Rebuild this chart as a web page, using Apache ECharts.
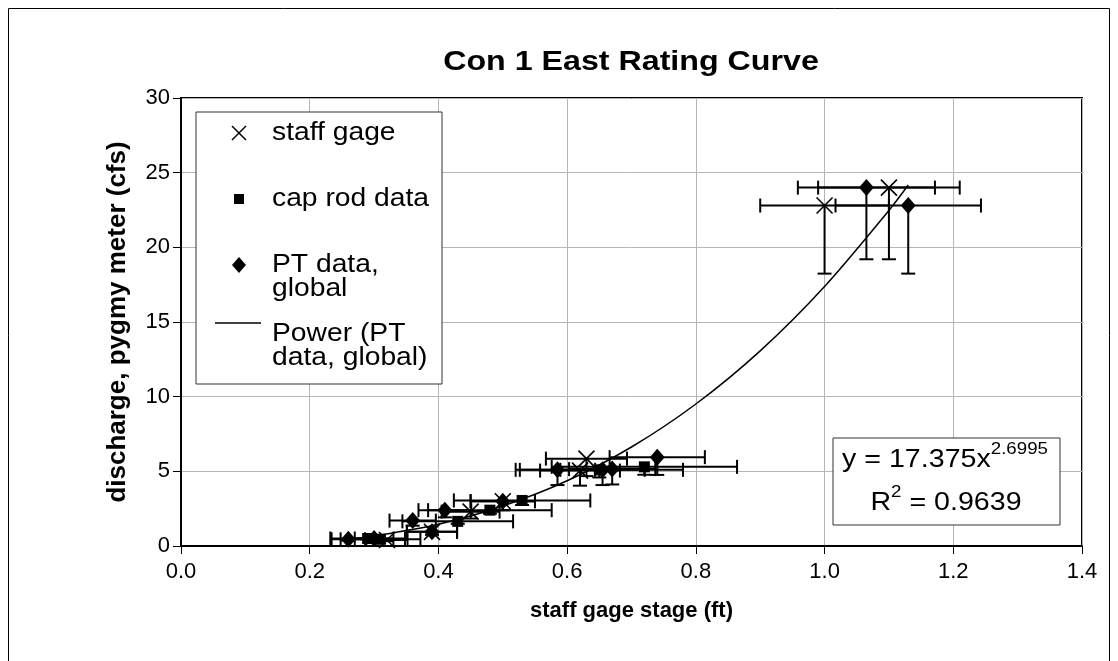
<!DOCTYPE html>
<html>
<head>
<meta charset="utf-8">
<script src="https://cdn.jsdelivr.net/npm/echarts@6/dist/echarts.min.js"></script>
<style>
    html, body {margin: 0; background: #fff;}
    #chart {width: 1118px; height: 661px;}
</style>
</head>
<body>
<div id="chart"></div>
<script>
// staff gage readings (X markers)
const staffX = [0.32, 0.39, 0.45, 0.50, 0.62, 0.63, 1.00, 1.10];
const staffY = [0.40, 0.95, 2.30, 3.00, 5.05, 5.85, 22.8, 24.0];

// cap rod data (squares)
const capX = [0.29, 0.31, 0.43, 0.48, 0.53, 0.65, 0.72];
const capY = [0.50, 0.45, 1.65, 2.40, 3.05, 5.10, 5.30];

// PT data, global (diamonds)
const ptX = [0.26, 0.30, 0.36, 0.39, 0.41, 0.50, 0.585, 0.655, 0.67, 0.74, 1.065, 1.13];
const ptY = [0.45, 0.50, 1.70, 0.95, 2.40, 3.00, 5.10, 5.10, 5.15, 5.95, 24.0, 22.8];

// power trendline
const curveX = [0.26, 0.30, 0.40, 0.50, 0.60, 0.70, 0.80, 0.90, 1.00, 1.10, 1.13];
const curveY = [0.46, 0.67, 1.46, 2.68, 4.37, 6.63, 9.51, 13.07, 17.38, 22.47, 24.17];

// error bar sizes (fraction of value)
const staffErr = {x: 0.1, yDown: 0.2};
const capErr = {x: 0.2, yDown: 0.1};
const ptErr = {x: 0.1, yDown: 0.2};

const fitText = {a: '17.375', b: '2.6995', r2: '0.9639'};
const xTicks = {min: 0, max: 1.4, step: 0.2};
const yTicks = {min: 0, max: 30, step: 5};

const FONT = 'Liberation Sans, Arial, sans-serif';
const X_ICON = 'path://M0,0L10,10M10,0L0,10';
const STRETCH = 1.13; // text in the picture is a bit wide

function pairs(xs, ys) {
    return xs.map((x, i) => [x, ys[i]]);
}

function errRows(xs, ys, err) {
    return xs.map((x, i) => [x, ys[i], x * (1 - err.x), x * (1 + err.x), ys[i] * (1 - err.yDown)]);
}

function renderErr(params, api) {
    const pt = api.coord([api.value(0), api.value(1)]);
    const lo = api.coord([api.value(2), api.value(1)]);
    const hi = api.coord([api.value(3), api.value(1)]);
    const dn = api.coord([api.value(0), api.value(4)]);
    const c = 7;
    const style = {stroke: '#000', lineWidth: 2};
    const seg = (x1, y1, x2, y2) => ({type: 'line', shape: {x1, y1, x2, y2}, style});
    return {
        type: 'group',
        children: [
            seg(lo[0], lo[1], hi[0], hi[1]),
            seg(lo[0], lo[1] - c, lo[0], lo[1] + c),
            seg(hi[0], hi[1] - c, hi[0], hi[1] + c),
            seg(pt[0], pt[1], dn[0], dn[1]),
            seg(dn[0] - c, dn[1], dn[0] + c, dn[1]),
        ],
    };
}

function errSeries(name, rows) {
    return {
        type: 'custom',
        name: name + ' err',
        renderItem: renderErr,
        encode: {x: [0, 2, 3], y: [1, 4]},
        data: rows,
        z: 2,
        silent: true,
    };
}

function wideText(x, y, style, z) {
    return {
        type: 'text', x, y, scaleX: STRETCH, z: z || 11,
        style: Object.assign({x: 0, y: 0, fill: '#000'}, style),
    };
}

const chart = echarts.init(document.getElementById('chart'));

const legendItems = [
    {y: 133, lines: ['staff gage'], icon: 'x'},
    {y: 199, lines: ['cap rod data'], icon: 'square'},
    {y: 265, lines: ['PT data,', 'global'], icon: 'diamond'},
    {y: 334, lines: ['Power (PT', 'data, global)'], icon: 'line'},
];

function legendIcons(item) {
    const cx = 239, cy = item.y;
    const ln = (x1, y1, x2, y2) => ({type: 'line', z: 11, shape: {x1, y1, x2, y2}, style: {stroke: '#000', lineWidth: 1.5}});
    if (item.icon === 'x') {
        return [ln(cx - 7, cy - 7, cx + 7, cy + 7), ln(cx + 7, cy - 7, cx - 7, cy + 7)];
    }
    if (item.icon === 'square') {
        return [{type: 'rect', z: 11, shape: {x: cx - 5, y: cy - 5, width: 10, height: 10}, style: {fill: '#000'}}];
    }
    if (item.icon === 'diamond') {
        return [{type: 'polygon', z: 11, shape: {points: [[cx, cy - 8], [cx + 7, cy], [cx, cy + 8], [cx - 7, cy]]}, style: {fill: '#000'}}];
    }
    return [ln(215, cy - 11, 261, cy - 11)];
}

const legendGraphics = [
    {type: 'rect', z: 10, shape: {x: 196, y: 112, width: 246, height: 272}, style: {fill: '#fff', stroke: '#333', lineWidth: 1}},
];
legendItems.forEach((item) => {
    legendGraphics.push(...legendIcons(item));
    item.lines.forEach((t, k) => {
        legendGraphics.push(wideText(272, item.y + k * 24, {text: t, font: '25px ' + FONT, verticalAlign: 'middle'}));
    });
});

const superRich = {
    b: {fontFamily: FONT, fontSize: 26, color: '#000', lineHeight: 32, verticalAlign: 'bottom'},
    s: {fontFamily: FONT, fontSize: 17, color: '#000', lineHeight: 32, verticalAlign: 'top'},
};

chart.setOption({
    animation: false,
    backgroundColor: '#fff',
    grid: {
        left: 181,
        right: 36,
        top: 98,
        bottom: 115,
        show: true,
        borderColor: '#000',
        borderWidth: 2,
        containLabel: false,
    },
    xAxis: {
        type: 'value',
        min: xTicks.min,
        max: xTicks.max,
        interval: xTicks.step,
        name: 'staff gage stage (ft)',
        nameLocation: 'middle',
        nameGap: 54,
        nameTextStyle: {fontFamily: FONT, fontSize: 22, fontWeight: 'bold', color: '#000'},
        axisLine: {lineStyle: {color: '#000', width: 2}},
        axisTick: {show: true, length: 8, lineStyle: {color: '#000'}},
        axisLabel: {fontFamily: FONT, fontSize: 22, color: '#000', margin: 15, formatter: (v) => v.toFixed(1)},
        splitLine: {show: true, lineStyle: {color: '#b5b5b5', width: 1}},
    },
    yAxis: {
        type: 'value',
        min: yTicks.min,
        max: yTicks.max,
        interval: yTicks.step,
        name: 'discharge, pygmy meter (cfs)',
        nameLocation: 'middle',
        nameGap: 50,
        nameTextStyle: {fontFamily: FONT, fontSize: 26, fontWeight: 'bold', color: '#000'},
        axisLine: {show: true, lineStyle: {color: '#000', width: 2}},
        axisTick: {show: true, length: 8, lineStyle: {color: '#000'}},
        axisLabel: {fontFamily: FONT, fontSize: 22, color: '#000', margin: 11},
        splitLine: {show: true, lineStyle: {color: '#b5b5b5', width: 1}},
    },
    graphic: [
        {type: 'rect', silent: true, shape: {x: 8.5, y: 8.5, width: 1101, height: 700}, style: {fill: 'none', stroke: '#000', lineWidth: 1}},
        {
            type: 'text', x: 631, y: 62, scaleX: 1.15, z: 11,
            style: {x: 0, y: 0, text: 'Con 1 East Rating Curve', fill: '#000', align: 'center', verticalAlign: 'middle',
                font: 'bold 28px ' + FONT},
        },
        ...legendGraphics,
        {type: 'rect', z: 10, shape: {x: 833, y: 438, width: 227, height: 87}, style: {fill: '#fff', stroke: '#333', lineWidth: 1}},
        {
            type: 'text', x: 945, y: 457, scaleX: 1.1, z: 11,
            style: {x: 0, y: 0, text: '{b|y = ' + fitText.a + 'x}{s|' + fitText.b + '}', align: 'center', verticalAlign: 'middle', rich: superRich},
        },
        {
            type: 'text', x: 946, y: 500, scaleX: 1.1, z: 11,
            style: {x: 0, y: 0, text: '{b|R}{s|2}{b| = ' + fitText.r2 + '}', align: 'center', verticalAlign: 'middle', rich: superRich},
        },
    ],
    series: [
        errSeries('staff gage', errRows(staffX, staffY, staffErr)),
        errSeries('cap rod data', errRows(capX, capY, capErr)),
        errSeries('PT data, global', errRows(ptX, ptY, ptErr)),
        {
            type: 'scatter',
            name: 'cap rod data',
            symbol: 'rect',
            symbolSize: 11,
            itemStyle: {color: '#000', opacity: 1},
            data: pairs(capX, capY),
            z: 3,
        },
        {
            type: 'scatter',
            name: 'PT data, global',
            symbol: 'diamond',
            symbolSize: [15, 17],
            itemStyle: {color: '#000', opacity: 1},
            data: pairs(ptX, ptY),
            z: 3,
        },
        {
            type: 'scatter',
            name: 'staff gage',
            symbol: X_ICON,
            symbolSize: 16,
            itemStyle: {color: 'transparent', borderColor: '#000', borderWidth: 1.6, opacity: 1},
            data: pairs(staffX, staffY),
            z: 4,
        },
        {
            type: 'line',
            name: 'Power (PT data, global)',
            data: pairs(curveX, curveY),
            smooth: 0.3,
            showSymbol: false,
            lineStyle: {color: '#000', width: 1.5},
            z: 5,
        },
    ],
});
</script>
</body>
</html>
